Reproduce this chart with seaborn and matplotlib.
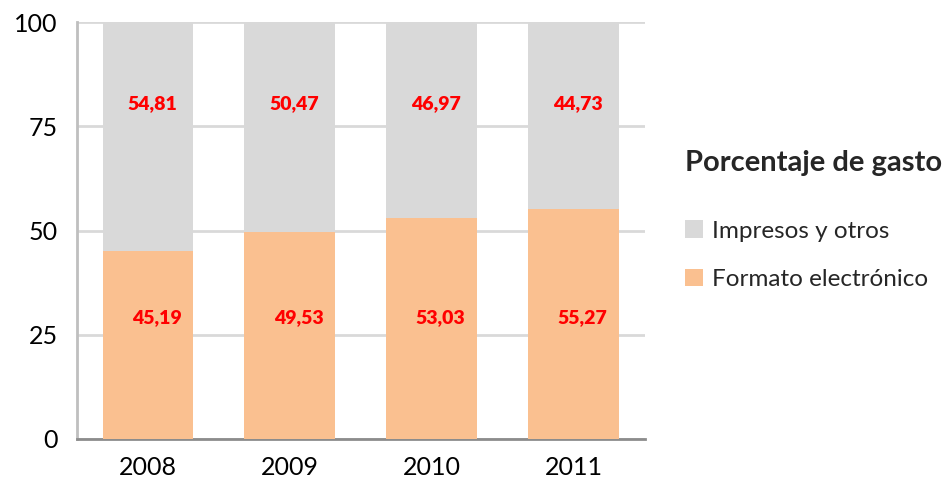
import numpy as np
import pandas as pd
import seaborn as sns
import matplotlib.pyplot as plt
from matplotlib.patches import Patch

years = ['2008', '2009', '2010', '2011']
electronico = [45.19, 49.53, 53.03, 55.27]
impresos = [54.81, 50.47, 46.97, 44.73]
series_names = ['Impresos y otros', 'Formato electrónico']
yticks = [0, 25, 50, 75, 100]

sns.set_style('white')
plt.rcParams['font.family'] = ['Lato', 'DejaVu Sans']

df = pd.DataFrame({'year': years, 'elec': electronico, 'imp': impresos})
df['total'] = df['elec'] + df['imp']

fig = plt.figure(figsize=(9.48, 4.84), dpi=100)
ax = fig.add_axes([0.0812, 0.093, 0.599, 0.8615])

gray = '#d9d9d9'
orange = '#fac090'

# stack: full height in gray, electronic part drawn over it
sns.barplot(data=df, x='year', y='total', color=gray, width=0.64,
            saturation=1, linewidth=0, ax=ax, zorder=2)
sns.barplot(data=df, x='year', y='elec', color=orange, width=0.64,
            saturation=1, linewidth=0, ax=ax, zorder=3)

ax.set_ylim(0, 100)
ax.set_xlim(-0.5, 3.5)
ax.set_yticks(yticks)
ax.set_yticklabels([str(t) for t in yticks])
ax.set_xlabel('')
ax.set_ylabel('')
ax.yaxis.grid(True, color='#d9d9d9', linewidth=2, zorder=0)
ax.set_axisbelow(True)
ax.tick_params(axis='both', length=0, labelsize=18, colors='black')
ax.tick_params(axis='y', pad=14)
ax.tick_params(axis='x', pad=12)

for s in ['top', 'right']:
    ax.spines[s].set_visible(False)
ax.spines['left'].set_color('#bfbfbf')
ax.spines['left'].set_linewidth(2)
ax.spines['bottom'].set_color('#8c8c8c')
ax.spines['bottom'].set_linewidth(2)

# value labels (comma decimal)
for i, (e, m) in enumerate(zip(electronico, impresos)):
    ax.text(i + 0.03, 80.5, f'{m:.2f}'.replace('.', ','), ha='center', va='center',
            color='red', fontsize=14, fontweight='heavy', zorder=5)
    ax.text(i + 0.06, 29, f'{e:.2f}'.replace('.', ','), ha='center', va='center',
            color='red', fontsize=14, fontweight='heavy', zorder=5)

handles = [Patch(facecolor=gray, edgecolor='none', label=series_names[0]),
           Patch(facecolor=orange, edgecolor='none', label=series_names[1])]
leg = fig.legend(handles=handles, loc='upper left', bbox_to_anchor=(0.7225, 0.69),
                 frameon=False, fontsize=17.5, title='Porcentaje de gasto',
                 title_fontproperties={'weight': 'bold', 'size': 21},
                 handlelength=0.75, handleheight=0.75, handletextpad=0.35,
                 labelspacing=1.1, borderpad=0, borderaxespad=0,
                 alignment='left')
leg._legend_box.sep = 32

fig.savefig('out.png', dpi=100)
